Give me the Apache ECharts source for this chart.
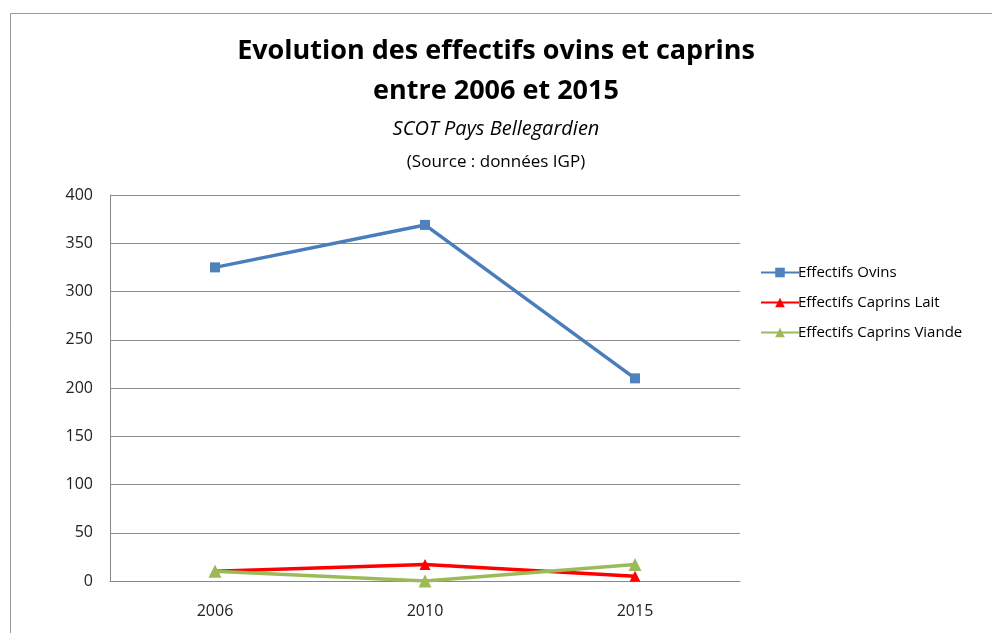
<!DOCTYPE html>
<html><head><meta charset="utf-8">
<script src="https://cdn.jsdelivr.net/npm/echarts@6/dist/echarts.min.js"></script>
<style>html,body{margin:0;padding:0;background:#fff}#c{width:992px;height:633px}</style>
</head><body><div id="c"></div>
<script>
const categories = ['2006', '2010', '2015'];
const ovins = [325, 369, 210];
const caprinsLait = [10, 17, 5];
const caprinsViande = [10, 0, 17];
const yTicks = [0, 50, 100, 150, 200, 250, 300, 350, 400];

const chart = echarts.init(document.getElementById('c'));
const font = "'Open Sans', 'Noto Sans', sans-serif";
chart.setOption({
  animation: false,
  backgroundColor: '#fff',
  graphic: [{
    type: 'rect', left: 8, top: 11, shape: {width: 1000, height: 640},
    style: {fill: 'none', stroke: '#9a9a9a', lineWidth: 1}, silent: true
  }],
  title: [
    {text: 'Evolution des effectifs ovins et caprins', left: 'center', top: 33,
     textStyle: {fontFamily: font, fontSize: 27, fontWeight: 'bold', color: '#000'}},
    {text: 'entre 2006 et 2015', left: 'center', top: 73,
     textStyle: {fontFamily: font, fontSize: 27, fontWeight: 'bold', color: '#000'}},
    {text: 'SCOT Pays Bellegardien', left: 'center', top: 114,
     textStyle: {fontFamily: font, fontSize: 20, fontStyle: 'italic', fontWeight: 'normal', color: '#000'}},
    {text: '(Source : données IGP)', left: 'center', top: 149,
     textStyle: {fontFamily: font, fontSize: 17, fontWeight: 'normal', color: '#000'}}
  ],
  legend: {
    orient: 'vertical', left: 755, top: 260, itemGap: 15,
    itemWidth: 38, itemHeight: 12,
    textStyle: {fontFamily: font, fontSize: 15, color: '#000', padding: [0,0,0,-6]},
    data: ['Effectifs Ovins', 'Effectifs Caprins Lait', 'Effectifs Caprins Viande']
  },
  grid: {left: 110, right: 252, top: 195, bottom: 52, containLabel: false},
  xAxis: {
    type: 'category', data: categories, boundaryGap: true,
    axisLine: {show: true, lineStyle: {color: '#888', width: 1}},
    axisTick: {show: false},
    axisLabel: {fontFamily: font, fontSize: 16, color: '#222', margin: 22}
  },
  yAxis: {
    type: 'value', min: yTicks[0], max: yTicks[yTicks.length - 1], interval: 50,
    axisLine: {show: true, lineStyle: {color: '#888', width: 1}},
    axisTick: {show: false},
    splitLine: {show: true, lineStyle: {color: '#8c8c8c', width: 1}},
    axisLabel: {fontFamily: font, fontSize: 16, color: '#222', margin: 17}
  },
  series: [
    {name: 'Effectifs Ovins', type: 'line', data: ovins, symbol: 'rect', symbolSize: 10,
     lineStyle: {color: '#4a7ebb', width: 3.5}, itemStyle: {color: '#4f81bd'}},
    {name: 'Effectifs Caprins Lait', type: 'line', data: caprinsLait, symbol: 'triangle', symbolSize: 11,
     lineStyle: {color: '#ff0000', width: 3.5}, itemStyle: {color: '#ff0000'}},
    {name: 'Effectifs Caprins Viande', type: 'line', data: caprinsViande, symbol: 'triangle', symbolSize: 13,
     lineStyle: {color: '#9bbb59', width: 3.5}, itemStyle: {color: '#9bbb59'}}
  ]
});
</script></body></html>
